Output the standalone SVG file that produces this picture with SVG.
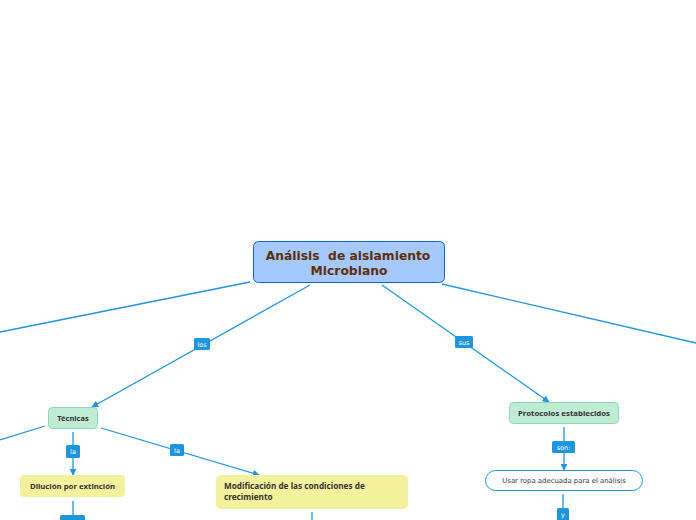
<svg xmlns="http://www.w3.org/2000/svg" width="696" height="520" viewBox="0 0 696 520">
<style>
.ln{stroke:#1e95dd;stroke-width:1.3;fill:none}
.lbl rect{fill:#1e95dd}
.lbl text{fill:#ffffff;font-family:"DejaVu Sans",sans-serif;font-size:6.5px;text-anchor:middle}
.green{fill:#bfecd3;stroke:#86d8bb;stroke-width:1}
.yellow{fill:#f3f19b}
.t{font-family:"Noto Sans","DejaVu Sans",sans-serif;font-weight:bold;fill:#333333;font-size:7.8px}
</style>
<defs>
<marker id="ah" viewBox="0 0 10 10" refX="9" refY="5" markerWidth="7" markerHeight="7" markerUnits="userSpaceOnUse" orient="auto">
<path d="M0,0 L10,5 L0,10 z" fill="#1e95dd"/>
</marker>
</defs>
<rect width="696" height="520" fill="#ffffff"/>
<g id="connectors">
<line class="ln" x1="250" y1="282" x2="0" y2="332"/>
<line class="ln" x1="310" y1="285" x2="92" y2="407" marker-end="url(#ah)"/>
<line class="ln" x1="382" y1="285" x2="549" y2="402" marker-end="url(#ah)"/>
<line class="ln" x1="442" y1="284" x2="696" y2="343"/>
<line class="ln" x1="45" y1="426" x2="0" y2="440"/>
<line class="ln" x1="73" y1="432" x2="73" y2="475" marker-end="url(#ah)"/>
<line class="ln" x1="101" y1="428" x2="259" y2="475" marker-end="url(#ah)"/>
<line class="ln" x1="73" y1="501" x2="73" y2="516"/>
<line class="ln" x1="312" y1="512" x2="312" y2="520"/>
<line class="ln" x1="564" y1="427" x2="564" y2="470" marker-end="url(#ah)"/>
<line class="ln" x1="563" y1="494" x2="563" y2="509"/>
<g class="lbl"><rect x="194" y="338" width="16" height="12" rx="1.5"/><text x="202" y="346.5">los</text></g>
<g class="lbl"><rect x="455" y="336" width="18" height="12" rx="1.5"/><text x="464" y="344.5">sus</text></g>
<g class="lbl"><rect x="66" y="445" width="14" height="13" rx="1.5"/><text x="73" y="454">la</text></g>
<g class="lbl"><rect x="170" y="444" width="14" height="12" rx="1.5"/><text x="177" y="452.5">la</text></g>
<g class="lbl"><rect x="552" y="441" width="23" height="12" rx="1.5"/><text x="563.5" y="449.5">son:</text></g>
<g class="lbl"><rect x="60" y="515" width="25" height="8" rx="1.5"/></g>
<g class="lbl"><rect x="557" y="508" width="12" height="14" rx="1.5"/><text x="563" y="517">y</text></g>
</g>
<g id="root">
<rect x="253.5" y="241.5" width="191" height="41" rx="5" fill="#a6c9fb" stroke="#0d62d9" stroke-width="1"/>
<text x="348" y="260" xml:space="preserve" style="white-space:pre" font-family="DejaVu Sans,sans-serif" font-weight="bold" font-size="12.3" fill="#5b2e0b" text-anchor="middle">Análisis  de aislamiento</text>
<text x="349" y="275" font-family="DejaVu Sans,sans-serif" font-weight="bold" font-size="12.3" fill="#5b2e0b" text-anchor="middle">Microbiano</text>
</g>
<g id="tecnicas">
<rect class="green" x="48.5" y="407.5" width="49" height="21" rx="4"/>
<text class="t" x="73" y="420.5" text-anchor="middle" style="font-size:7.5px">Técnicas</text>
</g>
<g id="dilucion">
<rect class="yellow" x="20" y="475" width="105" height="22" rx="4"/>
<text class="t" x="72.5" y="489" text-anchor="middle">Dilución por extinción</text>
</g>
<g id="modificacion">
<rect class="yellow" x="216" y="475" width="192" height="34" rx="5"/>
<text class="t" x="224" y="489" style="font-size:8.2px">Modificación de las condiciones de</text>
<text class="t" x="224" y="500" style="font-size:8.2px">crecimiento</text>
</g>
<g id="protocolos">
<rect class="green" x="509.5" y="402.5" width="109" height="21" rx="4"/>
<text class="t" x="564" y="415.5" text-anchor="middle">Protocolos establecidos</text>
</g>
<g id="usar">
<rect x="485.5" y="470.5" width="157" height="20" rx="10" fill="#ffffff" stroke="#1e95dd" stroke-width="1"/>
<text x="564" y="483" font-family="DejaVu Sans,sans-serif" font-size="6.9" fill="#333333" text-anchor="middle">Usar ropa adecuada para el análisis</text>
</g>
</svg>
